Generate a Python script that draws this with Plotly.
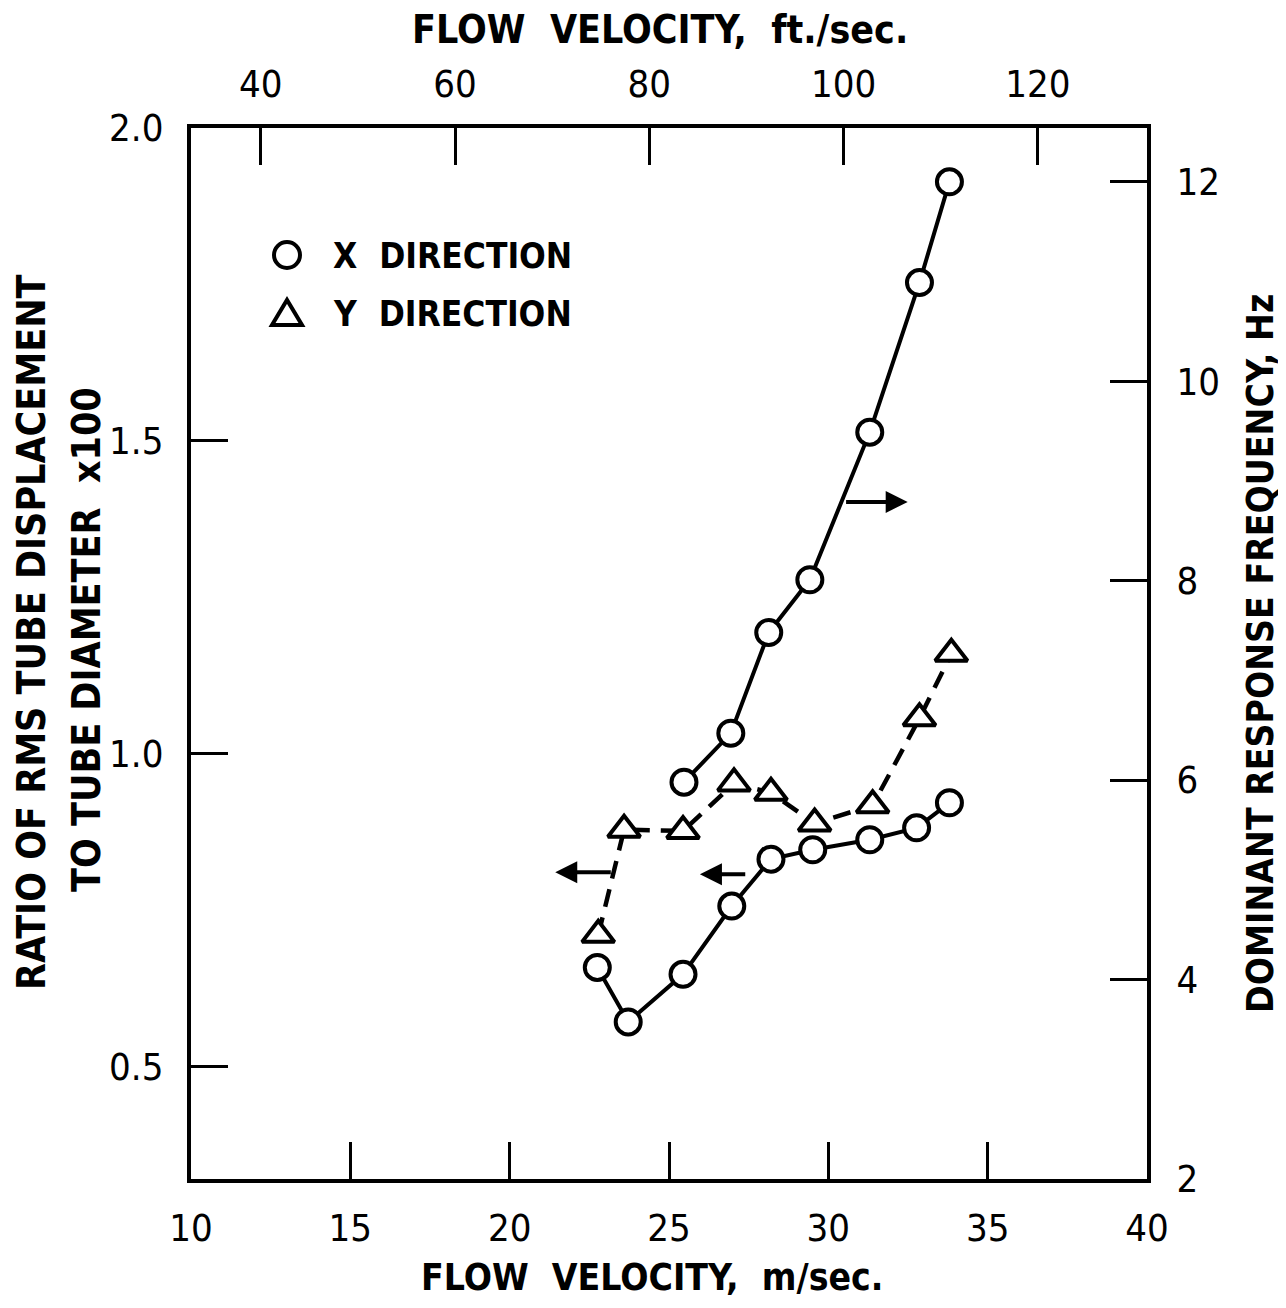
import plotly.graph_objects as go

# ---------------- data ----------------
# X direction, RMS displacement ratio (x100) vs flow velocity (m/s)  -> left axis
vel_x_disp = [22.75, 23.72, 25.44, 26.97, 28.20, 29.51, 31.30, 32.77, 33.80]
x_disp = [0.659, 0.572, 0.648, 0.757, 0.832, 0.847, 0.863, 0.882, 0.922]

# Y direction, RMS displacement ratio (x100) -> left axis
vel_y_disp = [22.78, 23.59, 25.44, 27.04, 28.20, 29.57, 31.39, 32.86, 33.86]
y_disp = [0.711, 0.879, 0.877, 0.953, 0.938, 0.889, 0.918, 1.057, 1.160]

# X direction, dominant response frequency (Hz) -> right axis
vel_x_freq = [25.47, 26.94, 28.13, 29.42, 31.30, 32.86, 33.80]
x_freq = [5.98, 6.47, 7.48, 8.01, 9.49, 10.99, 12.00]

# axis ticks
ms_ticks = [10, 15, 20, 25, 30, 35, 40]
fts_ticks = [40, 60, 80, 100, 120]
disp_ticks = [0.5, 1.0, 1.5, 2.0]
disp_ticklabels = ["0.5", "1.0", "1.5", "2.0"]
freq_ticks = [2, 4, 6, 8, 10, 12]

# arrows indicating which axis each curve belongs to (head, tail)
arrow_axis = ["y", "y", "y2"]
arrow_head_x = [21.43, 25.97, 32.49]
arrow_tail_x = [23.22, 27.44, 30.51]
arrow_y = [0.811, 0.808, 8.79]

FT_PER_M = 1 / 0.3048

# ---------------- style / layout ----------------
FONT = "DejaVu Sans Condensed, DejaVu Sans, sans-serif"
BLACK = "black"
PAGE_OFF = 8                    # default body margin of the html page
W, H = 1278, 1300               # figure size
L_IN, R_IN, T_IN, B_IN = 191, 1147, 128, 1179   # inner plot area (page pixels)
ML = L_IN - PAGE_OFF
MT = T_IN - PAGE_OFF
MR = PAGE_OFF + W - R_IN
MB = PAGE_OFF + H - B_IN


def px_x(px):
    return (px - L_IN) / (R_IN - L_IN)


def px_y(py):
    return (B_IN - py) / (B_IN - T_IN)


fig = go.Figure()

fig.add_trace(go.Scatter(
    x=vel_x_freq, y=x_freq, yaxis="y2", mode="lines+markers",
    line=dict(color=BLACK, width=4),
    marker=dict(symbol="circle", size=25, color="white", line=dict(color=BLACK, width=4)),
    showlegend=False, hoverinfo="skip"))

fig.add_trace(go.Scatter(
    x=vel_y_disp, y=y_disp, mode="lines+markers",
    line=dict(color=BLACK, width=4.5, dash="18px,11px"),
    marker=dict(symbol="triangle-up", size=28, color="white", line=dict(color=BLACK, width=4)),
    showlegend=False, hoverinfo="skip"))

fig.add_trace(go.Scatter(
    x=vel_x_disp, y=x_disp, mode="lines+markers",
    line=dict(color=BLACK, width=4),
    marker=dict(symbol="circle", size=25, color="white", line=dict(color=BLACK, width=4)),
    showlegend=False, hoverinfo="skip"))

axis_common = dict(
    showgrid=False, zeroline=False, showline=True, linecolor=BLACK, linewidth=4,
    ticks="inside", ticklen=37, tickwidth=3, tickcolor=BLACK,
    tickfont=dict(family=FONT, size=38, color=BLACK),
)

fig.update_layout(
    width=W, height=H,
    margin=dict(l=ML, r=MR, t=MT, b=MB),
    paper_bgcolor="white", plot_bgcolor="white",
    showlegend=False,
    xaxis=dict(range=[10, 40], tickvals=ms_ticks, ticklabelstandoff=12, **axis_common),
    xaxis2=dict(range=[10 * FT_PER_M, 40 * FT_PER_M], overlaying="x", side="top",
                tickvals=fts_ticks, ticklabelstandoff=12, **axis_common),
    yaxis=dict(range=[0.321, 2.0], tickvals=disp_ticks, ticktext=disp_ticklabels,
               ticklabelstandoff=16, **axis_common),
    yaxis2=dict(range=[2.0, 12.54], overlaying="y", side="right", tickvals=freq_ticks,
                ticklabelstandoff=18, **axis_common),
)

# invisible trace so that the top (ft/sec) axis is rendered
fig.add_trace(go.Scatter(x=[v * FT_PER_M for v in vel_x_disp], y=x_disp, xaxis="x2",
                         mode="markers", marker=dict(opacity=0), showlegend=False,
                         hoverinfo="skip"))

anns = [
    dict(text="FLOW  VELOCITY,  ft./sec.", x=px_x(660), y=px_y(30), size=39),
    dict(text="FLOW  VELOCITY,  m/sec.", x=px_x(652), y=px_y(1277), size=37),
    dict(text="RATIO OF RMS TUBE DISPLACEMENT", x=px_x(31), y=px_y(632), textangle=-90, size=39),
    dict(text="TO TUBE DIAMETER  x100", x=px_x(86), y=px_y(640), textangle=-90, size=39),
    dict(text="DOMINANT RESPONSE FREQUENCY, Hz", x=px_x(1260), y=px_y(654), textangle=-90, size=37),
]
for a in anns:
    size = a.pop("size")
    fig.add_annotation(xref="paper", yref="paper", showarrow=False,
                       font=dict(family=FONT, size=size, color=BLACK, weight="bold"),
                       xanchor="center", yanchor="middle", **a)

# legend (text + symbols)
legend_font = dict(family=FONT, size=35, color=BLACK, weight="bold")
fig.add_annotation(xref="paper", yref="paper", x=px_x(331), y=px_y(256), text="X  DIRECTION",
                   showarrow=False, xanchor="left", yanchor="middle", font=legend_font)
fig.add_annotation(xref="paper", yref="paper", x=px_x(331), y=px_y(314), text="Y  DIRECTION",
                   showarrow=False, xanchor="left", yanchor="middle", font=legend_font)
fig.add_shape(type="circle", xref="paper", yref="paper",
              x0=px_x(274), x1=px_x(300), y0=px_y(268), y1=px_y(242),
              line=dict(color=BLACK, width=4), fillcolor="white")
tri = "M {:.5f},{:.5f} L {:.5f},{:.5f} L {:.5f},{:.5f} Z".format(
    px_x(272), px_y(325), px_x(302), px_y(325), px_x(287), px_y(300))
fig.add_shape(type="path", xref="paper", yref="paper", path=tri,
              line=dict(color=BLACK, width=4), fillcolor="white")

# arrows
for ax_name, hx, tx, yy in zip(arrow_axis, arrow_head_x, arrow_tail_x, arrow_y):
    fig.add_annotation(x=hx, y=yy, ax=tx, ay=yy, xref="x", yref=ax_name,
                       axref="x", ayref=ax_name, text="", showarrow=True,
                       arrowhead=2, arrowsize=1.1, arrowwidth=4, arrowcolor=BLACK,
                       standoff=0, startstandoff=0)

fig.write_html("out.html")
